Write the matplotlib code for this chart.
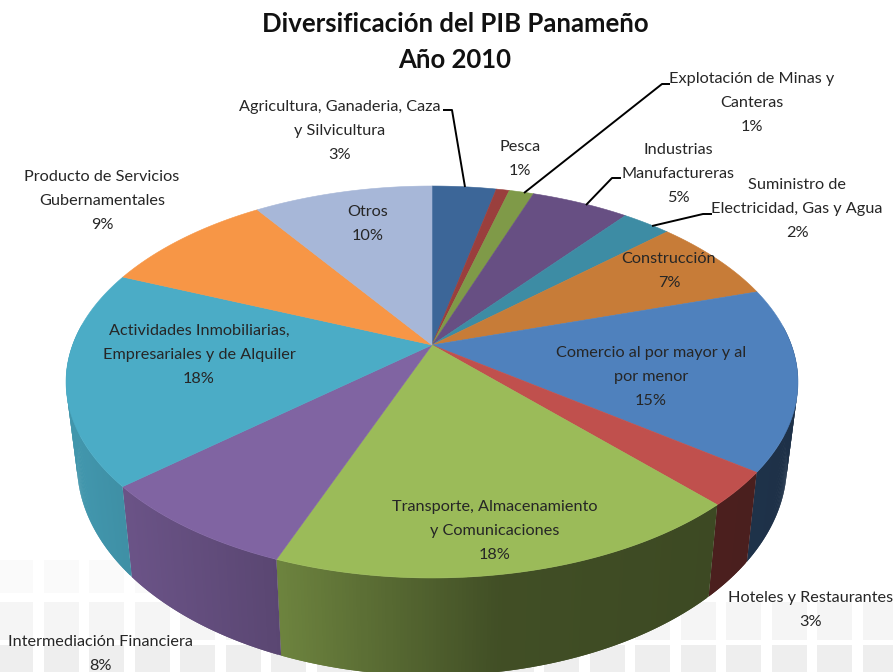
import numpy as np
import matplotlib
matplotlib.use('Agg')
import matplotlib.pyplot as plt
from matplotlib.colors import to_rgb
from matplotlib.patches import Polygon, Rectangle

plt.rcParams['font.family'] = ['Lato', 'DejaVu Sans']

sectors = ['Agricultura, Ganaderia, Caza\ny Silvicultura', 'Pesca', 'Explotación de Minas y\nCanteras',
           'Industrias\nManufactureras', 'Suministro de\nElectricidad, Gas y Agua', 'Construcción',
           'Comercio al por mayor y al\npor menor', 'Hoteles y Restaurantes',
           'Transporte, Almacenamiento\ny Comunicaciones', 'Intermediación Financiera',
           'Actividades Inmobiliarias,\nEmpresariales y de Alquiler', 'Producto de Servicios\nGubernamentales', 'Otros']
# shares read from the slice boundaries, the label is the rounded one
shares = [3.4, 0.7, 1.3, 5.2, 2.6, 7.0, 15.0, 2.8, 17.8, 7.8, 17.7, 9.2, 9.5]
pct_labels = ['3%', '1%', '1%', '5%', '2%', '7%', '15%', '3%', '18%', '8%', '18%', '9%', '10%']
colors = ['#3c6698', '#9a3f3d', '#7f9a48', '#674f83', '#3d8ca4', '#c77c38', '#4f81bd',
          '#c0504d', '#9bbb59', '#8064a2', '#4bacc6', '#f79646', '#a7b7d8']

# label centres in pixels
label_pos = [(340, 131), (520, 159), (752, 103), (678, 174), (797, 209), (669, 271), (651, 377),
             (811, 610), (495, 531), (100, 654), (199, 355), (102, 201), (368, 224)]
leaders = [[(443, 110), (452, 110), (465, 187)],
           [(670, 84), (662, 84), (524, 193)],
           [(621, 178), (612, 178), (586, 205)],
           [(712, 214), (703, 214), (652, 226)]]

# perspective of the pie disc
CX, CY = 432, 345
A, B, K = 359.4, 189.0, 0.1888


def project(angle):
    u, v = np.sin(angle), np.cos(angle)
    w = 1 + K * v
    return A * u / w, B * v / w


def wall_shade(x):
    return np.interp(x, [80, 280, 500, 800], [0.87, 0.70, 0.42, 0.38])


fig = plt.figure(figsize=(8.93, 6.72), dpi=100)
ax = fig.add_axes([0, 0, 1, 1])
ax.set_xlim(0, 893)
ax.set_ylim(672, 0)
ax.axis('off')

# faint slide background blocks
for x0 in np.arange(-2, 893, 45.5):
    rows = [(602, 38, '#f5f5f5'), (645, 30, '#eeeeee')]
    if x0 < 240:
        rows.append((560, 33, '#fafafa'))
    for y0, h, col in rows:
        ax.add_patch(Rectangle((x0, y0), 35, h, fc=col, ec='none', zorder=1))

edges = np.concatenate([[0], np.cumsum(shares)]) / np.sum(shares) * 2 * np.pi

# side wall, strips overlap the next one so no seams show
for i, col in enumerate(colors):
    rgb = np.array(to_rgb(col))
    n = max(int((edges[i + 1] - edges[i]) * 120), 2)
    angs = np.linspace(edges[i], edges[i + 1], n + 1)
    for a0, a1 in zip(angs[:-1], angs[1:]):
        if np.cos(a0) > 0.1 and np.cos(a1) > 0.1:
            continue
        x0, y0 = project(a0)
        x1, y1 = project(a1)
        xm, ym = project(edges[i + 1] if a1 == angs[-1] else a1 + (a1 - a0))
        pts = [(CX + x0, CY - y0), (CX + x1, CY - y1), (CX + xm, CY - ym),
               (CX + 0.97 * xm, CY + 79 - 1.08 * ym), (CX + 0.97 * x1, CY + 79 - 1.08 * y1),
               (CX + 0.97 * x0, CY + 79 - 1.08 * y0)]
        c = rgb * wall_shade((x0 + x1) / 2 + CX)
        ax.add_patch(Polygon(pts, closed=True, fc=c, ec='none', zorder=2 + i * 0.01))

# top of the pie
for i, col in enumerate(colors):
    angs = np.linspace(edges[i], edges[i + 1], 80)
    xs, ys = project(angs)
    pts = [(CX, CY)] + list(zip(CX + xs, CY - ys))
    ax.add_patch(Polygon(pts, closed=True, fc=col, ec=col, lw=0.4, zorder=3))

for pts in leaders:
    ax.plot(*zip(*pts), color='black', lw=1.4, zorder=4, solid_capstyle='butt')

for name, pct, (x, y) in zip(sectors, pct_labels, label_pos):
    ax.text(x, y, name + '\n' + pct, ha='center', va='center', fontsize=11.7, linespacing=1.92,
            color='#262626', zorder=5)

ax.text(455, 42, 'Diversificación del PIB Panameño\nAño 2010', ha='center', va='center',
        fontsize=18.5, fontweight='bold', linespacing=1.6, color='#111111', zorder=5)

fig.savefig('out.png', dpi=100)
